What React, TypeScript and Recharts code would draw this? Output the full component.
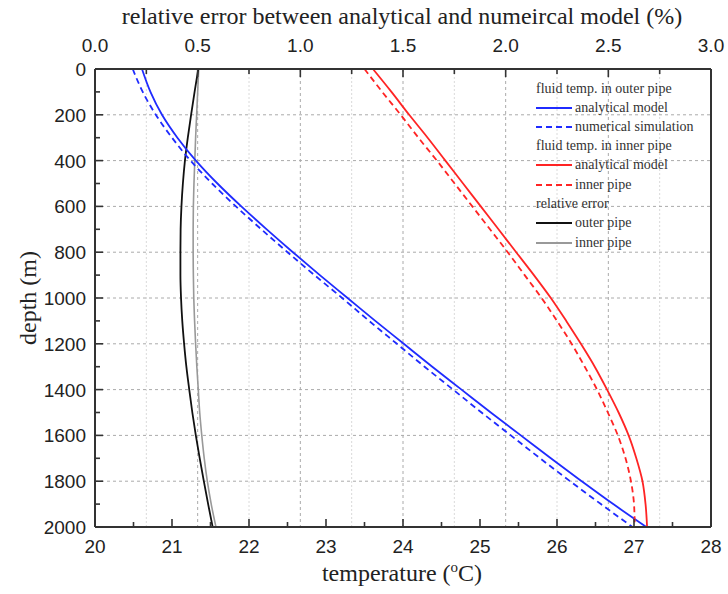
import React from 'react';
import { LineChart, Line, XAxis, YAxis, ReferenceLine } from 'recharts';

// depth samples (m)
const depths = [0, 100, 200, 300, 400, 500, 600, 700, 800, 900, 1000, 1100, 1200, 1300, 1400, 1500, 1600, 1700, 1800, 1900, 2000];

// fluid temp. in outer pipe (°C)
const outerAnalytical = [20.61, 20.72, 20.87, 21.07, 21.31, 21.59, 21.9, 22.23, 22.57, 22.92, 23.28, 23.64, 24.01, 24.38, 24.76, 25.14, 25.53, 25.92, 26.32, 26.73, 27.16];
const outerNumerical = [20.49, 20.62, 20.79, 21.0, 21.24, 21.52, 21.83, 22.16, 22.5, 22.85, 23.21, 23.56, 23.92, 24.28, 24.65, 25.02, 25.4, 25.78, 26.17, 26.57, 26.98];

// fluid temp. in inner pipe (°C)
const innerAnalytical = [23.61, 23.85, 24.08, 24.32, 24.55, 24.78, 25.01, 25.24, 25.47, 25.7, 25.92, 26.12, 26.31, 26.49, 26.65, 26.8, 26.93, 27.03, 27.11, 27.15, 27.17];
const innerNumerical = [23.5, 23.73, 23.97, 24.2, 24.44, 24.67, 24.9, 25.13, 25.36, 25.58, 25.8, 26.0, 26.19, 26.36, 26.52, 26.66, 26.79, 26.89, 26.96, 27.0, 27.01];

// relative error (%)
const errorOuter = [0.503, 0.485, 0.468, 0.452, 0.438, 0.428, 0.421, 0.417, 0.416, 0.416, 0.419, 0.425, 0.434, 0.445, 0.459, 0.474, 0.491, 0.51, 0.53, 0.551, 0.573];
const errorInner = [0.505, 0.5, 0.495, 0.49, 0.486, 0.482, 0.479, 0.478, 0.478, 0.479, 0.481, 0.485, 0.49, 0.496, 0.503, 0.51, 0.52, 0.532, 0.547, 0.566, 0.589];

const tempTicks = [20, 21, 22, 23, 24, 25, 26, 27, 28];
const tempMinor = [20.5, 21.5, 22.5, 23.5, 24.5, 25.5, 26.5, 27.5];
const errorTicks = [0, 0.5, 1.0, 1.5, 2.0, 2.5, 3.0];
const errorMinor = [0.25, 0.75, 1.25, 1.75, 2.25, 2.75];
const depthTicks = [0, 200, 400, 600, 800, 1000, 1200, 1400, 1600, 1800, 2000];
const depthMinor = [100, 300, 500, 700, 900, 1100, 1300, 1500, 1700, 1900];

const data = depths.map((d, i) => ({
  depth: d,
  oa: outerAnalytical[i],
  on: outerNumerical[i],
  ia: innerAnalytical[i],
  inum: innerNumerical[i],
  eo: errorOuter[i],
  ei: errorInner[i],
}));

const AXIS = '#333';
const SANS = '"Liberation Sans", Arial, sans-serif';
const SERIF = '"Liberation Serif", "Times New Roman", serif';
const BLUE = '#1f2bff';
const RED = '#ff2424';

const BottomTick = (props: any) => {
  const { x, y, payload } = props;
  const major = tempTicks.includes(payload.value);
  return (
    <g>
      <line x1={x} x2={x} y1={y} y2={y - (major ? 8 : 5)} stroke={AXIS} strokeWidth={1.6} />
      {major && (
        <text x={x} y={y + 26} textAnchor="middle" fontFamily={SANS} fontSize={19} fill="#222">
          {payload.value}
        </text>
      )}
    </g>
  );
};

const TopTick = (props: any) => {
  const { x, y, payload } = props;
  const major = errorTicks.includes(payload.value);
  return (
    <g>
      <line x1={x} x2={x} y1={y} y2={y + (major ? 8 : 5)} stroke={AXIS} strokeWidth={1.6} />
      {major && (
        <text x={x} y={y - 17} textAnchor="middle" fontFamily={SANS} fontSize={19} fill="#222">
          {payload.value.toFixed(1)}
        </text>
      )}
    </g>
  );
};

const LeftTick = (props: any) => {
  const { x, y, payload } = props;
  const major = depthTicks.includes(payload.value);
  return (
    <g>
      <line x1={x} x2={x + (major ? 8 : 5)} y1={y} y2={y} stroke={AXIS} strokeWidth={1.6} />
      {major && (
        <text x={x - 9} y={y + 7} textAnchor="end" fontFamily={SANS} fontSize={19} fill="#222">
          {payload.value}
        </text>
      )}
    </g>
  );
};

const legendRows = [
  { y: 89, label: 'fluid temp. in outer pipe' },
  { y: 108, label: 'analytical model', color: BLUE },
  { y: 127, label: 'numerical simulation', color: BLUE, dash: '6 4' },
  { y: 146, label: 'fluid temp. in inner pipe' },
  { y: 165, label: 'analytical model', color: RED },
  { y: 185, label: 'inner pipe', color: RED, dash: '6 4' },
  { y: 204, label: 'relative error' },
  { y: 223, label: 'outer pipe', color: '#111' },
  { y: 243, label: 'inner pipe', color: '#999' },
];

const Legend = () => (
  <div style={{ position: 'absolute', left: 0, top: 0 }}>
    {legendRows.map((r, i) => (
      <div
        key={i}
        style={{
          position: 'absolute',
          left: 536,
          top: r.y - 9,
          height: 18,
          display: 'flex',
          alignItems: 'center',
          whiteSpace: 'nowrap',
          fontFamily: SERIF,
          fontSize: 14,
          color: '#333',
        }}
      >
        {r.color && (
          <svg width={38} height={10} style={{ marginRight: 1 }}>
            <line x1={0} x2={36} y1={5} y2={5} stroke={r.color} strokeWidth={1.8} strokeDasharray={r.dash} />
          </svg>
        )}
        <span>{r.label}</span>
      </div>
    ))}
  </div>
);

export default function App() {
  return (
    <div style={{ position: 'absolute', left: 0, top: 0, width: 728, height: 594, background: '#fff' }}>
      <LineChart
        width={728}
        height={594}
        data={data}
        layout="vertical"
        margin={{ top: 39, right: 17, bottom: 37, left: 45 }}
      >
        <XAxis
          xAxisId="t"
          type="number"
          orientation="bottom"
          domain={[20, 28]}
          ticks={[...tempTicks, ...tempMinor].sort((a, b) => a - b)}
          interval={0}
          tick={<BottomTick />}
          tickLine={false}
          tickSize={0}
          tickMargin={0}
          height={30}
          axisLine={{ stroke: AXIS, strokeWidth: 2 }}
          allowDataOverflow
        />
        <XAxis
          xAxisId="e"
          type="number"
          orientation="top"
          domain={[0, 3]}
          ticks={[...errorTicks, ...errorMinor].sort((a, b) => a - b)}
          interval={0}
          tick={<TopTick />}
          tickLine={false}
          tickSize={0}
          tickMargin={0}
          height={30}
          axisLine={{ stroke: AXIS, strokeWidth: 2 }}
          allowDataOverflow
        />
        <YAxis
          type="number"
          dataKey="depth"
          domain={[0, 2000]}
          ticks={[...depthTicks, ...depthMinor].sort((a, b) => a - b)}
          interval={0}
          tick={<LeftTick />}
          tickLine={false}
          tickSize={0}
          tickMargin={0}
          width={50}
          axisLine={{ stroke: AXIS, strokeWidth: 2 }}
        />

        {errorMinor.map((v) => (
          <ReferenceLine key={`em${v}`} x={v} xAxisId="e" stroke="#dadada" strokeDasharray="2 2" />
        ))}
        {errorTicks.slice(1, -1).map((v) => (
          <ReferenceLine key={`et${v}`} x={v} xAxisId="e" stroke="#aaa" strokeDasharray="3 3" />
        ))}
        {depthTicks.slice(1, -1).map((d) => (
          <ReferenceLine key={`d${d}`} y={d} xAxisId="t" stroke="#aaa" strokeDasharray="3 3" />
        ))}
        <ReferenceLine x={28} xAxisId="t" stroke={AXIS} strokeWidth={2} />

        <Line xAxisId="e" type="monotone" dataKey="ei" stroke="#999" strokeWidth={1.6} dot={false} isAnimationActive={false} />
        <Line xAxisId="e" type="monotone" dataKey="eo" stroke="#111" strokeWidth={1.8} dot={false} isAnimationActive={false} />
        <Line xAxisId="t" type="monotone" dataKey="on" stroke={BLUE} strokeWidth={1.8} strokeDasharray="6 4" dot={false} isAnimationActive={false} />
        <Line xAxisId="t" type="monotone" dataKey="oa" stroke={BLUE} strokeWidth={1.8} dot={false} isAnimationActive={false} />
        <Line xAxisId="t" type="monotone" dataKey="inum" stroke={RED} strokeWidth={1.8} strokeDasharray="6 4" dot={false} isAnimationActive={false} />
        <Line xAxisId="t" type="monotone" dataKey="ia" stroke={RED} strokeWidth={1.8} dot={false} isAnimationActive={false} />
      </LineChart>

      <Legend />

      <div
        style={{
          position: 'absolute',
          left: 0,
          width: 804,
          top: 3,
          textAlign: 'center',
          fontFamily: SERIF,
          fontSize: 24,
          color: '#222',
        }}
      >
        relative error between analytical and numeircal model (%)
      </div>
      <div
        style={{
          position: 'absolute',
          left: 0,
          width: 804,
          top: 559,
          textAlign: 'center',
          fontFamily: SERIF,
          fontSize: 24,
          color: '#222',
        }}
      >
        temperature (<sup style={{ fontSize: 15 }}>o</sup>C)
      </div>
      <div
        style={{
          position: 'absolute',
          left: 28,
          top: 298,
          transform: 'translate(-50%, -50%) rotate(-90deg)',
          whiteSpace: 'nowrap',
          fontFamily: SERIF,
          fontSize: 24,
          color: '#222',
        }}
      >
        depth (m)
      </div>
    </div>
  );
}
